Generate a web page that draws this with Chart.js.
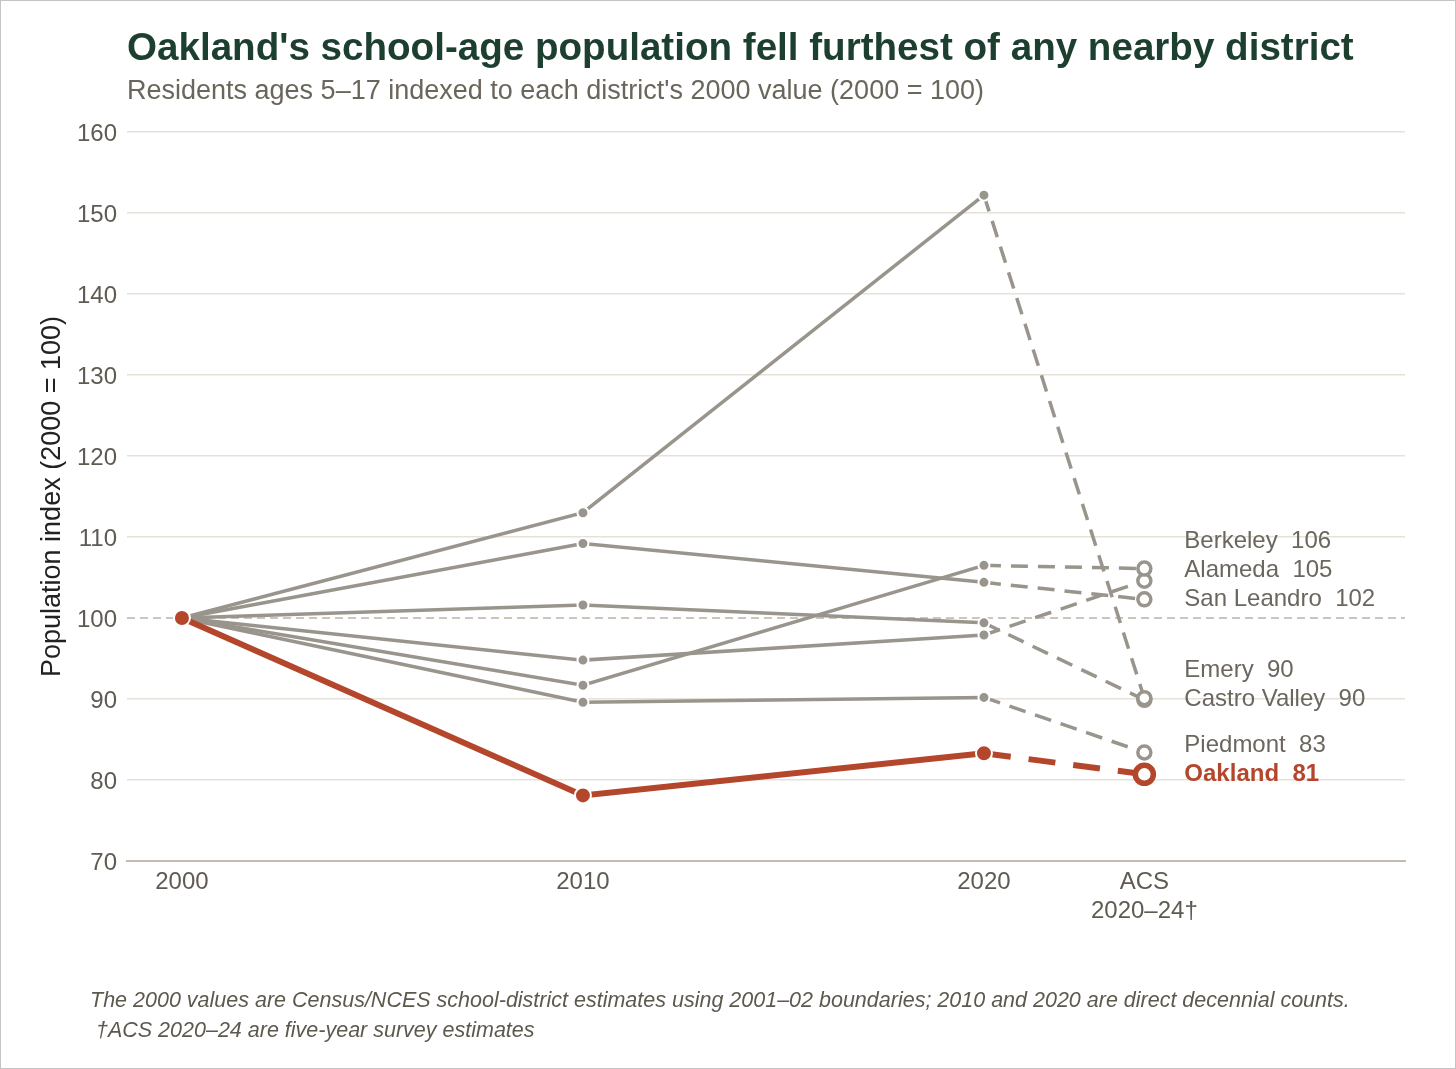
<!DOCTYPE html>
<html>
<head>
<meta charset="utf-8">
<script src="https://cdn.jsdelivr.net/npm/chart.js"></script>
<style>
  html, body { margin: 0; padding: 0; background: #fff; }
  #wrap { position: relative; width: 1456px; height: 1069px; overflow: hidden;
          font-family: "Liberation Sans", Arial, sans-serif; }
  #wrap canvas { position: absolute; left: 0; top: 0; }
  .frame { position: absolute; left: 0; top: 0; right: 0; bottom: 0;
           border: 1px solid #c4c4c4; pointer-events: none; }
  .title { position: absolute; left: 127px; top: 27px; font-weight: bold; font-size: 38.6px;
           line-height: 39px; color: #1c3f30; white-space: nowrap; }
  .subtitle { position: absolute; left: 127px; top: 77px; font-size: 27px; line-height: 27px;
              color: #6b665c; white-space: nowrap; }
  .note { position: absolute; left: 90px; top: 985px; font-style: italic; font-size: 21.5px;
          line-height: 30px; color: #5e594f; white-space: pre; }
</style>
</head>
<body>
<div id="wrap">
  <canvas id="chart" width="1456" height="1069"></canvas>
  <div class="title">Oakland's school-age population fell furthest of any nearby district</div>
  <div class="subtitle">Residents ages 5–17 indexed to each district's 2000 value (2000 = 100)</div>
  <div class="note">The 2000 values are Census/NCES school-district estimates using 2001–02 boundaries; 2010 and 2020 are direct decennial counts.
 †ACS 2020–24 are five-year survey estimates</div>
  <div class="frame"></div>
</div>
<script>
// x positions: census years, ACS 2020-24 plotted at 2024
const years = [2000, 2010, 2020, 2024];
const xLabels = ['2000', '2010', '2020', ['ACS', '2020–24†']];

const oakland      = [100, 78.1, 83.3, 80.7];
const berkeley     = [100, 91.7, 106.5, 106.1];
const alameda      = [100, 94.8, 97.9, 104.6];
const sanLeandro   = [100, 109.2, 104.4, 102.3];
const emery        = [100, 113.0, 152.2, 90.1];
const castroValley = [100, 101.6, 99.4, 89.9];
const piedmont     = [100, 89.6, 90.2, 83.4];

const FONT = '"Liberation Sans", Arial, sans-serif';
const GRAY = '#99958c';
const RED = '#b4462b';
const TEXT = '#5f5a52';

function pts(vals) {
  return years.map((yr, i) => ({ x: yr, y: vals[i] }));
}

function grayLine(name, vals) {
  return {
    label: name,
    data: pts(vals),
    borderColor: GRAY,
    borderWidth: 3.5,
    pointRadius: [0, 5.5, 5.5, 6.5],
    pointBackgroundColor: [GRAY, GRAY, GRAY, '#fff'],
    pointBorderColor: ['#fff', '#fff', '#fff', GRAY],
    pointBorderWidth: [0, 2, 2, 3.5],
    segment: { borderDash: c => c.p0DataIndex === 2 ? [17, 10] : undefined },
    order: 1
  };
}

const datasets = [
  grayLine('Berkeley', berkeley),
  grayLine('Alameda', alameda),
  grayLine('San Leandro', sanLeandro),
  grayLine('Emery', emery),
  grayLine('Castro Valley', castroValley),
  grayLine('Piedmont', piedmont),
  {
    label: 'Oakland',
    data: pts(oakland),
    borderColor: RED,
    borderWidth: 6,
    pointRadius: [8, 8, 8, 9],
    pointBackgroundColor: [RED, RED, RED, '#fff'],
    pointBorderColor: ['#fff', '#fff', '#fff', RED],
    pointBorderWidth: [2, 2, 2, 5.5],
    segment: { borderDash: c => c.p0DataIndex === 2 ? [27, 18] : undefined },
    order: -1
  }
];

// dashed baseline at 100
const baseline = {
  id: 'baseline',
  beforeDatasetsDraw(chart) {
    const { ctx, chartArea, scales: { y } } = chart;
    const py = y.getPixelForValue(100);
    ctx.save();
    ctx.strokeStyle = '#cac6be';
    ctx.lineWidth = 2;
    ctx.setLineDash([8, 5]);
    ctx.beginPath();
    ctx.moveTo(chartArea.left, py);
    ctx.lineTo(chartArea.right, py);
    ctx.stroke();
    ctx.restore();
  }
};

// end labels next to the ACS points, nudged apart so they don't overlap
const endLabels = {
  id: 'endLabels',
  afterDatasetsDraw(chart) {
    const { ctx, scales: { x, y } } = chart;
    const items = chart.data.datasets.map(ds => ({
      name: ds.label,
      value: ds.data[3].y,
      hi: ds.label === 'Oakland'
    })).sort((a, b) => b.value - a.value);
    let below = Infinity;
    for (let i = items.length - 1; i >= 0; i--) {
      items[i].py = Math.min(y.getPixelForValue(items[i].value), below - 29);
      below = items[i].py;
    }
    const lx = x.getPixelForValue(2024) + 40;
    ctx.save();
    ctx.textAlign = 'left';
    ctx.textBaseline = 'middle';
    items.forEach(it => {
      ctx.font = (it.hi ? 'bold ' : '') + '24px ' + FONT;
      ctx.fillStyle = it.hi ? RED : '#6b675f';
      ctx.fillText(it.name + '  ' + Math.round(it.value), lx, it.py);
    });
    ctx.restore();
  }
};

new Chart(document.getElementById('chart'), {
  type: 'line',
  data: { datasets },
  plugins: [baseline, endLabels],
  options: {
    responsive: false,
    animation: false,
    layout: { padding: { left: 32, top: 132, right: 51, bottom: 128 } },
    plugins: { legend: { display: false }, tooltip: { enabled: false } },
    scales: {
      x: {
        type: 'linear',
        min: 1998.63,
        max: 2030.5,
        afterBuildTicks: s => { s.ticks = years.map(v => ({ value: v })); },
        afterFit: s => { s.height = 80; },
        grid: { display: false, drawTicks: false },
        border: { color: '#c3bdb1', width: 2 },
        ticks: {
          color: TEXT,
          font: { family: FONT, size: 24 },
          padding: 7,
          maxRotation: 0,
          autoSkip: false,
          callback: v => xLabels[years.indexOf(v)]
        }
      },
      y: {
        min: 70,
        max: 160,
        afterFit: s => { s.width = 95; },
        grid: {
          color: c => (c.tick.value === 100 || c.tick.value === 70) ? 'rgba(0,0,0,0)' : '#e5e2d9',
          lineWidth: 1.5,
          drawTicks: false
        },
        border: { display: false },
        ticks: { stepSize: 10, color: TEXT, font: { family: FONT, size: 24 }, padding: 10, labelOffset: 2 },
        title: {
          display: true,
          text: 'Population index (2000 = 100)',
          color: '#222',
          font: { family: FONT, size: 27 },
          padding: { top: 4, bottom: 4 }
        }
      }
    }
  }
});
</script>
</body>
</html>
